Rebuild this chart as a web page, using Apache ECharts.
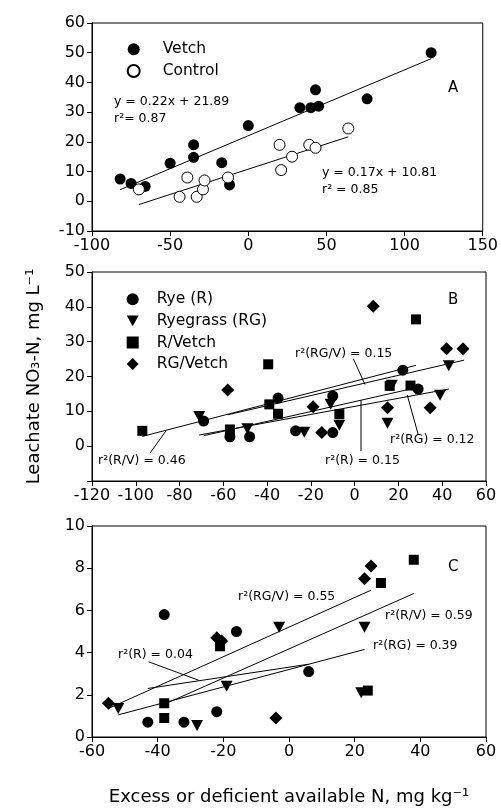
<!DOCTYPE html>
<html><head><meta charset="utf-8">
<script src="https://cdn.jsdelivr.net/npm/echarts@6/dist/echarts.min.js"></script>
<style>html,body{margin:0;padding:0;background:#fff}#c{width:501px;height:812px}</style>
</head><body><div id="c"></div><script>
// ---------- Panel A ----------
const vetchA = [[117,50],[43,37.5],[33,31.5],[40,31.5],[45,32],[76,34.5],[0,25.5],[-82,7.5],[-75,6],[-66,5],[-50,12.8],[-35,19],[-35,14.8],[-17,13],[-12,5.5]];
const controlA = [[64,24.5],[-70,4],[-44,1.5],[-39,8],[-33,1.5],[-29,4],[-28,7],[-13,8],[20,19],[21,10.5],[28,15],[39,19],[43,18]];
const fitVetchA = [[-82,3.9],[117,48]];
const fitControlA = [[-70,-1.1],[64,21.7]];
// ---------- Panel B ----------
const ryeB = [[22,21.8],[29,16.4],[-35,13.8],[-10,14.4],[-69,7.2],[-57,2.7],[-48,2.7],[-27,4.4],[-10,3.9]];
const ryegrassB = [[43,23.1],[17,17.5],[39,14.6],[-71,8.5],[-49,5],[-23,4],[-11,12],[-7,6],[15,6.6]];
const rVetchB = [[28,36.4],[-39.5,23.5],[16,17.3],[25.5,17.4],[-97,4.4],[-39,12],[-35,9.3],[-57,4.8],[-7,9.2]];
const rgVetchB = [[8.5,40.2],[42,28],[49.5,28],[-58,16.1],[-19,11.3],[-15,3.9],[15,11],[34.5,11]];
const fitRVB = [[-97,2.8],[28,23.2]];
const fitRGVB = [[-58,9.0],[50,24.7]];
const fitRB = [[-69,3.0],[29,16.9]];
const fitRGB = [[-71,3.2],[43,16.4]];
const leadersB = [
  [[-0.6,25.1],[4.7,17.7]],
  [[-93.5,-2],[-86.2,4.4]],
  [[2.9,-1.4],[2.9,13.2]],
  [[29.1,3.2],[24,14.7]]
];
// ---------- Panel C ----------
const ryeC = [[-38,5.8],[-16,5],[6,3.1],[-43,0.7],[-32,0.7],[-22,1.2]];
const ryegrassC = [[-3,5.2],[23,5.2],[-52,1.35],[-28,0.55],[-19,2.4],[22,2.1]];
const rVetchC = [[38,8.4],[28,7.3],[-21,4.3],[-38,1.6],[-38,0.9],[24,2.2]];
const rgVetchC = [[25,8.1],[23,7.5],[-22,4.7],[-20.5,4.55],[-55,1.6],[-4,0.9]];
const fitRGVC = [[-55,1.35],[25,6.96]];
const fitRVC = [[-38,1.55],[38,6.8]];
const fitRGC = [[-52,1.05],[23,4.15]];
const fitRC = [[-43,2.3],[6,3.45]];
const leadersC = [[[-42.7,3.56],[-27.5,2.69]]];
// ---------- Axes ----------
const xTicksA = {min:-100,max:150,interval:50};
const yTicksA = {min:-10,max:60,interval:10};
const xTicksB = {min:-120,max:60,interval:20};
const yTicksB = {min:-10,max:50,interval:10};
const xTicksC = {min:-60,max:60,interval:20};
const yTicksC = {min:0,max:10,interval:2};

const FONT = 'DejaVu Sans';
const TRI = 'path://M0,0L10,0L5,9Z';
const BLACK = '#000';
const FILL = {color:'#000',opacity:1};

function axisBase(t){
  return Object.assign({
    type:'value',
    axisLine:{show:true,onZero:false,lineStyle:{color:BLACK,width:1}},
    axisTick:{show:true,inside:false,length:5,lineStyle:{color:BLACK}},
    axisLabel:{color:BLACK,fontFamily:FONT,fontSize:16,margin:7,showMinLabel:true,showMaxLabel:true,hideOverlap:false},
    splitLine:{show:false}
  }, t);
}
function lineSeries(data, g){
  return {type:'line',data:data,xAxisIndex:g,yAxisIndex:g,symbol:'none',silent:true,
    lineStyle:{color:BLACK,width:1,opacity:1},z:1};
}
function scat(name,data,g,symbol,size,style){
  return {type:'scatter',name:name,data:data,xAxisIndex:g,yAxisIndex:g,symbol:symbol,symbolSize:size,
    itemStyle:style||FILL,z:3};
}
function txt(s,x,y,size){
  return {type:'text',x:x,y:y,z:10,style:{text:s,fontFamily:FONT,fontSize:size||12.5,fill:BLACK,align:'left',verticalAlign:'middle'}};
}

const series = [
  lineSeries(fitVetchA,0), lineSeries(fitControlA,0),
  scat('Vetch',vetchA,0,'circle',11),
  scat('Control',controlA,0,'circle',11,{color:'#fff',borderColor:BLACK,borderWidth:1,opacity:1}),
  lineSeries(fitRVB,1), lineSeries(fitRGVB,1), lineSeries(fitRB,1), lineSeries(fitRGB,1),
  ...leadersB.map(l=>lineSeries(l,1)),
  scat('Rye (R)',ryeB,1,'circle',11),
  scat('Ryegrass (RG)',ryegrassB,1,TRI,[12,11]),
  scat('R/Vetch',rVetchB,1,'rect',10),
  scat('RG/Vetch',rgVetchB,1,'diamond',13),
  lineSeries(fitRGVC,2), lineSeries(fitRVC,2), lineSeries(fitRGC,2), lineSeries(fitRC,2),
  ...leadersC.map(l=>lineSeries(l,2)),
  scat('Rye (R)',ryeC,2,'circle',11),
  scat('Ryegrass (RG)',ryegrassC,2,TRI,[12,11]),
  scat('R/Vetch',rVetchC,2,'rect',10),
  scat('RG/Vetch',rgVetchC,2,'diamond',13)
];

const legendText = {fontFamily:FONT,fontSize:15.5,color:BLACK,lineHeight:16};
const option = {
  animation:false,
  backgroundColor:'#fff',
  grid:[
    {left:92,top:23,width:394,height:208,show:true,borderColor:BLACK,borderWidth:1,backgroundColor:'transparent'},
    {left:92,top:272,width:394,height:209,show:true,borderColor:BLACK,borderWidth:1,backgroundColor:'transparent'},
    {left:92,top:526,width:394,height:211,show:true,borderColor:BLACK,borderWidth:1,backgroundColor:'transparent'}
  ],
  xAxis:[
    axisBase(Object.assign({gridIndex:0},xTicksA)),
    axisBase(Object.assign({gridIndex:1},xTicksB)),
    axisBase(Object.assign({gridIndex:2},xTicksC,{
      name:'Excess or deficient available N, mg kg⁻¹',nameLocation:'middle',nameGap:51,
      nameTextStyle:{fontFamily:FONT,fontSize:18,color:BLACK}}))
  ],
  yAxis:[
    axisBase(Object.assign({gridIndex:0},yTicksA)),
    axisBase(Object.assign({gridIndex:1},yTicksB,{
      name:'Leachate NO₃-N, mg L⁻¹',nameLocation:'middle',nameRotate:90,nameGap:49,
      nameTextStyle:{fontFamily:FONT,fontSize:18,color:BLACK},
      axisLabel:{color:BLACK,fontFamily:FONT,fontSize:16,margin:7,showMinLabel:true,showMaxLabel:true,
        formatter:function(v){return v===-10?'':String(v);}}})),
    axisBase(Object.assign({gridIndex:2},yTicksC))
  ],
  legend:[
    {orient:'vertical',left:126.7,top:41.3,padding:0,itemWidth:12,itemHeight:12,itemGap:5.7,selectedMode:false,
      itemStyle:{opacity:1},
      textStyle:Object.assign({padding:[0,0,0,18]},legendText),data:['Vetch','Control']},
    {orient:'vertical',left:126.7,top:291.3,padding:0,itemWidth:12,itemHeight:12,itemGap:5.6,selectedMode:false,
      itemStyle:{opacity:1},
      textStyle:Object.assign({padding:[0,0,0,13]},legendText),data:['Rye (R)','Ryegrass (RG)','R/Vetch','RG/Vetch']}
  ],
  graphic:[
    txt('y = 0.22x + 21.89',114,101.7), txt('r²= 0.87',114,118.5),
    txt('y = 0.17x + 10.81',322,172.7), txt('r² = 0.85',322,190),
    txt('A',448,88,15),
    txt('r²(RG/V) = 0.15',295,354), txt('r²(R/V) = 0.46',98,461),
    txt('r²(R) = 0.15',325,461), txt('r²(RG) = 0.12',390,440),
    txt('B',448,300,15),
    txt('r²(RG/V) = 0.55',238,597), txt('r²(R/V) = 0.59',385,616),
    txt('r²(RG) = 0.39',373,646), txt('r²(R) = 0.04',118,655),
    txt('C',448,567,15)
  ],
  series:series
};
const chart = echarts.init(document.getElementById('c'),null,{renderer:'canvas'});
chart.setOption(option);
</script></body></html>
